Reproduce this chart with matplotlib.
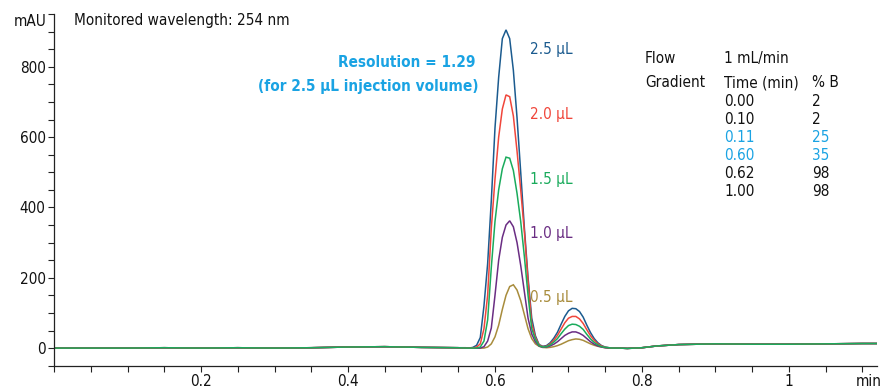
import matplotlib
matplotlib.use("Agg")
import matplotlib.pyplot as plt
from matplotlib import font_manager
from matplotlib.ticker import MultipleLocator, FixedLocator

# Prefer DejaVu Sans Condensed; otherwise a narrow face; otherwise plain DejaVu Sans
fonts = font_manager.fontManager.ttflist
dv_cond = [f for f in fonts if f.name == "DejaVu Sans" and "Condensed" in f.fname]
narrow = sorted({f.name for f in fonts if "Narrow" in f.name or "Condensed" in f.name})
if dv_cond:
    plt.rcParams["font.family"] = ["DejaVu Sans"]
    plt.rcParams["font.stretch"] = "condensed"
    FS = 11.0
elif narrow:
    plt.rcParams["font.family"] = [narrow[0], "DejaVu Sans"]
    FS = 13.0
else:
    plt.rcParams["font.family"] = ["DejaVu Sans"]
    FS = 10.0

# ---- data -------------------------------------------------------------
# retention time (min) for the flat baseline before the peaks
t_pre = [0.00, 0.05, 0.10, 0.15, 0.20, 0.25, 0.30, 0.35, 0.40, 0.45, 0.50, 0.55]
a_pre = [0, 0, 0, 1, 0, 1, 0, 1, 3, 4, 2, 1]

# retention time (min) across the two eluting peaks
t_peak = [0.560, 0.565, 0.570, 0.575, 0.580, 0.585, 0.590, 0.595, 0.600, 0.605,
          0.610, 0.615, 0.620, 0.625, 0.630, 0.635, 0.640, 0.645, 0.650, 0.655,
          0.660, 0.665, 0.670, 0.675, 0.680, 0.685, 0.690, 0.695, 0.700, 0.705,
          0.710, 0.715, 0.720, 0.725, 0.730, 0.735, 0.740, 0.745, 0.750, 0.755,
          0.760]

# absorbance (mAU) at 254 nm for each injection volume
a_25 = [1, 0, 2, 8, 30, 120, 240, 420, 626, 770, 880, 905, 880, 790, 655, 500, 341,
        200, 85, 35, 10, 5, 7, 15, 28, 45, 68, 90, 106, 113, 112, 104, 88, 65, 44,
        27, 15, 7, 3, 1, 0]
a_20 = [0, 0, 0, 3, 12, 55, 150, 341, 480, 600, 680, 720, 715, 660, 560, 450, 330,
        190, 70, 30, 9, 4, 5, 12, 22, 36, 54, 72, 85, 90, 90, 83, 70, 52, 35, 22,
        12, 6, 2, 1, 0]
a_15 = [0, 0, 0, 0, 3, 20, 80, 230, 360, 450, 510, 543, 540, 505, 440, 360, 260,
        150, 55, 25, 7, 3, 4, 9, 17, 27, 41, 54, 64, 68, 67, 62, 53, 39, 26, 16, 9,
        4, 2, 1, 0]
a_10 = [0, 0, 0, 0, 0, 4, 20, 57, 150, 250, 315, 350, 362, 345, 300, 235, 160, 85,
        40, 18, 6, 2, 3, 6, 11, 18, 27, 36, 42, 46, 46, 42, 36, 27, 18, 11, 6, 3, 1,
        0, 0]
a_05 = [0, 0, 0, 0, 0, 0, 3, 12, 32, 65, 110, 150, 175, 180, 165, 135, 95, 55, 27,
        12, 5, 2, 1, 2, 4, 7, 11, 16, 21, 24, 26, 25, 22, 17, 12, 8, 5, 3, 1, 0, 0]

# baseline drift after the peaks
t_post = [0.77, 0.78, 0.80, 0.82, 0.85, 0.90, 0.95, 1.00, 1.05, 1.10, 1.12]
a_post = [0, -1, 1, 6, 10, 12, 11, 11, 12, 13, 13]

volumes = ["2.5 µL", "2.0 µL", "1.5 µL", "1.0 µL", "0.5 µL"]
traces = [a_25, a_20, a_15, a_10, a_05]
colors = ["#1b5b8f", "#f0463b", "#1aab5c", "#6a2d83", "#a88c3c"]
label_y = [850, 665, 480, 325, 145]
draw_order = [4, 3, 0, 1, 2]   # green trace ends up on top

flow = "1 mL/min"
grad_time = ["0.00", "0.10", "0.11", "0.60", "0.62", "1.00"]
grad_b = ["2", "2", "25", "35", "98", "98"]
grad_color = ["#111111", "#111111", "#1aa3e3", "#1aa3e3", "#111111", "#111111"]

# ---- figure -----------------------------------------------------------
fig = plt.figure(figsize=(8.86, 3.90), dpi=100)
ax = fig.add_axes([0.061, 0.0615, 0.929, 0.9025])

t_all = t_pre + t_peak + t_post
for i in draw_order:
    ax.plot(t_all, a_pre + traces[i] + a_post, color=colors[i], lw=1.1,
            solid_joinstyle="miter")

ax.set_xlim(0, 1.12)
ax.set_ylim(-51, 950)

for s in ("top", "right"):
    ax.spines[s].set_visible(False)
for s in ("left", "bottom"):
    ax.spines[s].set_linewidth(0.9)
    ax.spines[s].set_color("#222222")

ax.xaxis.set_major_locator(FixedLocator([0.2, 0.4, 0.6, 0.8, 1.0]))
ax.xaxis.set_minor_locator(MultipleLocator(0.05))
ax.yaxis.set_major_locator(FixedLocator([0, 200, 400, 600, 800]))
ax.yaxis.set_minor_locator(MultipleLocator(50))
ax.set_xticklabels(["0.2", "0.4", "0.6", "0.8", "1"])
ax.tick_params(axis="both", which="both", direction="out", length=4, width=0.8,
               color="#222222", labelsize=FS, labelcolor="#111111")
ax.tick_params(axis="x", pad=2)
ax.tick_params(axis="y", pad=2)

ax.text(-0.009, 1.0, "mAU", transform=ax.transAxes, ha="right", va="top",
        fontsize=FS, color="#111111")
ax.text(0.974, -0.022, "min", transform=ax.transAxes, ha="left", va="top",
        fontsize=FS, color="#111111")

ax.text(0.027, 933, "Monitored wavelength: 254 nm", ha="left", va="center",
        fontsize=FS, color="#111111")

ax.text(0.573, 812, "Resolution = 1.29", ha="right", va="center",
        fontsize=FS, fontweight="bold", color="#1aa3e3")
ax.text(0.577, 744, "(for 2.5 µL injection volume)", ha="right", va="center",
        fontsize=FS, fontweight="bold", color="#1aa3e3")

for name, col, y in zip(volumes, colors, label_y):
    ax.text(0.648, y, name, ha="left", va="center", fontsize=FS, color=col)

# method conditions
x_lab, x_time, x_b = 0.804, 0.912, 1.031
ax.text(x_lab, 823, "Flow", ha="left", va="center", fontsize=FS, color="#111111")
ax.text(x_time, 823, flow, ha="left", va="center", fontsize=FS, color="#111111")
ax.text(x_lab, 755, "Gradient", ha="left", va="center", fontsize=FS, color="#111111")
ax.text(x_time, 755, "Time (min)", ha="left", va="center", fontsize=FS, color="#111111")
ax.text(x_b, 755, "% B", ha="left", va="center", fontsize=FS, color="#111111")
row_y = 702
for tm, b, c in zip(grad_time, grad_b, grad_color):
    ax.text(x_time, row_y, tm, ha="left", va="center", fontsize=FS, color=c)
    ax.text(x_b, row_y, b, ha="left", va="center", fontsize=FS, color=c)
    row_y -= 51.5

fig.savefig("out.png", dpi=100)
